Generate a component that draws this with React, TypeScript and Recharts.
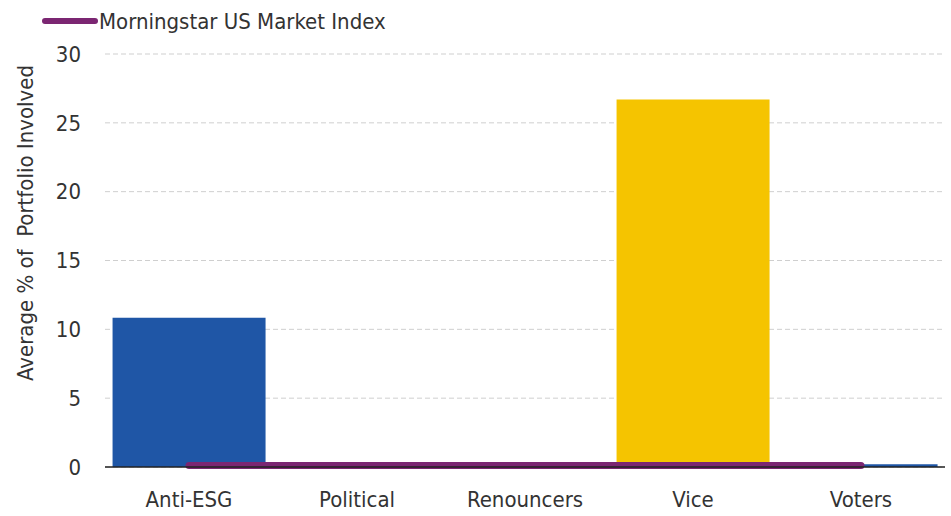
import { ComposedChart, Bar, Line, XAxis, YAxis, CartesianGrid, Cell } from 'recharts';

const categories = ['Anti-ESG', 'Political', 'Renouncers', 'Vice', 'Voters'];
const fundValues = [10.85, 0, 0, 26.7, 0.2];
const indexValues = [0.1, 0.1, 0.1, 0.1, 0.1];
const barColors = ['#1f56a6', '#1f56a6', '#1f56a6', '#f5c400', '#1f56a6'];
const yTicks = [0, 5, 10, 15, 20, 25, 30];

const FONT = '"Liberation Sans Narrow", "DejaVu Sans Condensed", Arial, sans-serif';
const PURPLE = '#7b2672';

export default function App() {
  const data = categories.map((c, i) => ({
    category: c,
    fund: fundValues[i],
    index: indexValues[i],
  }));

  return (
    <div style={{ position: 'absolute', left: 0, top: 0, width: 951, height: 516, background: '#fff', fontFamily: FONT }}>
      {/* legend */}
      <div style={{ position: 'absolute', left: 42, top: 8, display: 'flex', alignItems: 'center', height: 26 }}>
        <div style={{ width: 56, height: 6, borderRadius: 3, background: PURPLE }} />
        <span style={{ fontSize: 22, color: '#333', marginLeft: 1 }}>Morningstar US Market Index</span>
      </div>
      <ComposedChart
        width={951}
        height={516}
        data={data}
        margin={{ top: 54, right: 6, left: 0, bottom: 0 }}
        barCategoryGap="4.5%"
      >
        <CartesianGrid vertical={false} stroke="#cfcfcf" strokeDasharray="5 3" />
        <YAxis
          width={105}
          domain={[0, 30]}
          ticks={yTicks}
          axisLine={false}
          tickLine={false}
          tickSize={0}
          tickMargin={24}
          tick={{ fontSize: 22, fill: '#333', fontFamily: FONT }}
          label={{
            content: () => (
              <text
                x={25}
                y={223}
                transform="rotate(-90 25 223)"
                textAnchor="middle"
                dominantBaseline="central"
                fontSize={22}
                fill="#333"
                fontFamily={FONT}
                style={{ whiteSpace: 'pre' }}
              >
                Average % of  Portfolio Involved
              </text>
            ),
          }}
        />
        <XAxis
          dataKey="category"
          height={49}
          axisLine={{ stroke: '#222', strokeWidth: 1.5 }}
          tickLine={false}
          tickSize={0}
          tickMargin={24}
          tick={{ fontSize: 22, fill: '#333', fontFamily: FONT }}
        />
        <Bar dataKey="fund" isAnimationActive={false}>
          {data.map((d, i) => (
            <Cell key={d.category} fill={barColors[i]} />
          ))}
        </Bar>
        <Line
          dataKey="index"
          type="linear"
          stroke={PURPLE}
          strokeWidth={7}
          strokeLinecap="round"
          dot={false}
          activeDot={false}
          isAnimationActive={false}
        />
      </ComposedChart>
    </div>
  );
}
